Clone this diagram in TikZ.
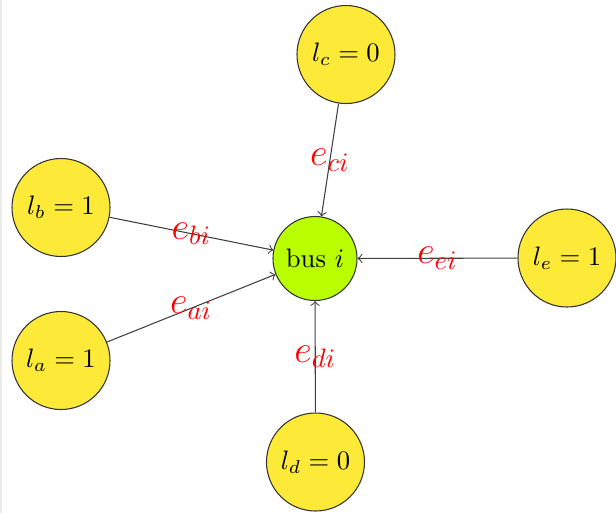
\documentclass[tikz,border=0pt]{standalone}
\usepackage{tikz}
\definecolor{loadyellow}{RGB}{253,234,56}
\definecolor{buslime}{RGB}{185,255,0}
\definecolor{edgered}{RGB}{255,0,0}
\begin{document}
\begin{tikzpicture}[x=0.375pt,y=-0.375pt,
  loadnode/.style={circle,draw=black!80,fill=loadyellow,minimum size=36.75pt,inner sep=0pt},
  busnode/.style={circle,draw=black!80,fill=buslime,minimum size=31.5pt,inner sep=0pt},
  conn/.style={->,draw=black!75},
  elabel/.style={midway,text=edgered,font=\Large}]
\useasboundingbox (0,0) rectangle (616,513);
\draw[color=black!8,line width=1pt] (0.7,0) -- (0.7,513);
\node[busnode] (bus) at (315,258.5) {bus $i$};
\node[loadnode] (c) at (346,54.5) {$l_c=0$};
\node[loadnode] (b) at (61,207.5) {$l_b=1$};
\node[loadnode] (a) at (61,360.5) {$l_a=1$};
\node[loadnode] (e) at (567,258) {$l_e=1$};
\node[loadnode] (d) at (315.5,462) {$l_d=0$};
\draw[conn] (c) -- node[elabel] {$e_{ci}$} (bus);
\draw[conn] (b) -- node[elabel] {$e_{bi}$} (bus);
\draw[conn] (a) -- node[elabel] {$e_{ai}$} (bus);
\draw[conn] (e) -- node[elabel] {$e_{ei}$} (bus);
\draw[conn] (d) -- node[elabel] {$e_{di}$} (bus);
\end{tikzpicture}
\end{document}
